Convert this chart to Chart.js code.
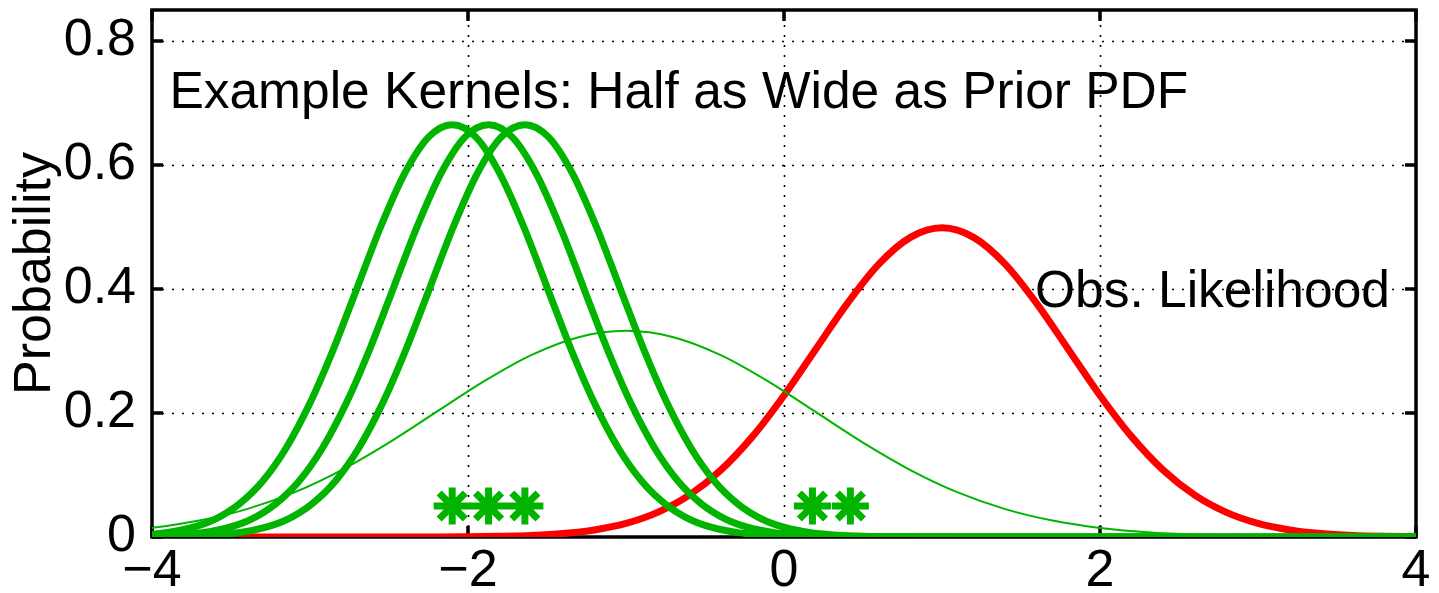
<!DOCTYPE html>
<html><head><meta charset="utf-8">
<script src="https://cdn.jsdelivr.net/npm/chart.js@4.4.1/dist/chart.umd.min.js"></script>
<style>html,body{margin:0;padding:0;background:#fff;overflow:hidden}canvas{display:block}</style>
</head><body>
<canvas id="c" width="1439" height="593"></canvas>
<script>
const xTickValues=[-4,-2,0,2,4];
const xTickLabels=['\u22124','\u22122','0','2','4'];
const yTickValues=[0,0.2,0.4,0.6,0.8];
const yTickLabels=['0','0.2','0.4','0.6','0.8'];

const kernel1X=[-4,-3.9,-3.75,-3.6,-3.45,-3.3,-3.15,-3.0,-2.85,-2.7,-2.55,-2.4,-2.25,-2.1,-1.95,-1.8,-1.65,-1.5,-1.35,-1.2,-1.05,-0.9,-0.75,-0.6,-0.45,-0.3,-0.15,0,0.15,4];
const kernel1Y=[0.0045,0.0074,0.015,0.029,0.053,0.090,0.144,0.216,0.304,0.403,0.502,0.587,0.645,0.665,0.645,0.587,0.502,0.403,0.304,0.216,0.144,0.090,0.053,0.029,0.015,0.0074,0.0034,0.0015,0.0006,0];
const kernel2X=[-4,-3.67,-3.52,-3.37,-3.22,-3.07,-2.92,-2.77,-2.62,-2.47,-2.32,-2.17,-2.02,-1.87,-1.72,-1.57,-1.42,-1.27,-1.12,-0.97,-0.82,-0.67,-0.52,-0.37,-0.22,-0.07,0.08,0.23,0.38,4];
const kernel2Y=[0.0012,0.0074,0.015,0.029,0.053,0.090,0.144,0.216,0.304,0.403,0.502,0.587,0.645,0.665,0.645,0.587,0.502,0.403,0.304,0.216,0.144,0.090,0.053,0.029,0.015,0.0074,0.0034,0.0015,0.0006,0];
const kernel3X=[-4,-3.44,-3.29,-3.14,-2.99,-2.84,-2.69,-2.54,-2.39,-2.24,-2.09,-1.94,-1.79,-1.64,-1.49,-1.34,-1.19,-1.04,-0.89,-0.74,-0.59,-0.44,-0.29,-0.14,0.01,0.16,0.31,0.46,0.61,4];
const kernel3Y=[0.0003,0.0074,0.015,0.029,0.053,0.090,0.144,0.216,0.304,0.403,0.502,0.587,0.645,0.665,0.645,0.587,0.502,0.403,0.304,0.216,0.144,0.090,0.053,0.029,0.015,0.0074,0.0034,0.0015,0.0006,0];
const priorX=[-4,-3.7,-3.4,-3.1,-2.8,-2.5,-2.2,-1.9,-1.6,-1.3,-1.0,-0.7,-0.4,-0.1,0.2,0.5,0.8,1.1,1.4,1.7,2.0,2.3,2.6,2.9,3.2,3.5,3.8,4.0];
const priorY=[0.0146,0.0265,0.0450,0.0719,0.1080,0.1522,0.2017,0.2510,0.2934,0.3223,0.3325,0.3223,0.2934,0.2510,0.2017,0.1522,0.1080,0.0719,0.0450,0.0265,0.0146,0.0076,0.0037,0.0017,0.0007,0.0003,0.0001,0.00006];
const likeX=[-4,-2.2,-2.0,-1.8,-1.6,-1.4,-1.2,-1.0,-0.8,-0.6,-0.4,-0.2,0.0,0.2,0.4,0.6,0.8,1.0,1.2,1.4,1.6,1.8,2.0,2.2,2.4,2.6,2.8,3.0,3.2,3.4,3.6,3.8,4.0];
const likeY=[0,0.0002,0.0004,0.0011,0.0025,0.0055,0.0114,0.0219,0.0397,0.0675,0.1079,0.1619,0.2283,0.3025,0.3764,0.4401,0.4833,0.4987,0.4833,0.4401,0.3764,0.3025,0.2283,0.1619,0.1079,0.0675,0.0397,0.0219,0.0114,0.0055,0.0025,0.0011,0.0004];
const sampleX=[-2.1,-1.87,-1.64,0.18,0.42];
const sampleY=[0.05,0.05,0.05,0.05,0.05];

const titleText='Example Kernels: Half as Wide as Prior PDF';
const titlePos=[-3.89,0.692];
const obsText='Obs. Likelihood';
const obsPos=[3.835,0.371];

const GREEN='rgb(0,180,0)';
const FONT='"Liberation Sans", Arial, Helvetica, sans-serif';
const pts=(xs,ys)=>xs.map((v,i)=>({x:v,y:ys[i]}));

const framePlugin={
  id:'frame',
  beforeDatasetsDraw(chart){
    const {ctx,chartArea:a,scales:{x,y}}=chart;
    ctx.save();
    ctx.strokeStyle='#000';ctx.lineWidth=1.6;ctx.setLineDash([2,8]);
    ctx.beginPath();
    xTickValues.slice(1,-1).forEach(v=>{const px=Math.round(x.getPixelForValue(v))+0.5;ctx.moveTo(px,a.bottom);ctx.lineTo(px,a.top);});
    yTickValues.slice(1).forEach(v=>{const py=Math.round(y.getPixelForValue(v))+0.5;ctx.moveTo(a.left,py);ctx.lineTo(a.right,py);});
    ctx.stroke();
    ctx.setLineDash([]);
    ctx.lineWidth=3.5;
    ctx.strokeRect(a.left,a.top,a.right-a.left,a.bottom-a.top);
    const L=11;
    ctx.beginPath();
    xTickValues.forEach(v=>{const px=x.getPixelForValue(v);ctx.moveTo(px,a.bottom);ctx.lineTo(px,a.bottom-L);ctx.moveTo(px,a.top);ctx.lineTo(px,a.top+L);});
    yTickValues.forEach(v=>{const py=y.getPixelForValue(v);ctx.moveTo(a.left,py);ctx.lineTo(a.left+L,py);ctx.moveTo(a.right,py);ctx.lineTo(a.right-L,py);});
    ctx.stroke();
    ctx.restore();
  },
  afterDatasetsDraw(chart){
    const {ctx,scales:{x,y}}=chart;
    ctx.save();
    ctx.fillStyle='#000';
    ctx.font='51.5px '+FONT;
    ctx.textBaseline='alphabetic';
    ctx.textAlign='left';
    ctx.fillText(titleText,x.getPixelForValue(titlePos[0]),y.getPixelForValue(titlePos[1]));
    ctx.textAlign='right';
    ctx.fillText(obsText,x.getPixelForValue(obsPos[0]),y.getPixelForValue(obsPos[1]));
    ctx.restore();
  }
};

new Chart(document.getElementById('c'),{
  type:'scatter',
  data:{datasets:[
    {data:pts(sampleX,sampleY),showLine:false,pointStyle:'star',pointRadius:18.5,pointBorderWidth:7,borderColor:GREEN,backgroundColor:GREEN,pointBorderColor:GREEN,order:0},
    {data:pts(kernel1X,kernel1Y),showLine:true,borderColor:GREEN,borderWidth:7,pointRadius:0,cubicInterpolationMode:'monotone',order:2},
    {data:pts(kernel2X,kernel2Y),showLine:true,borderColor:GREEN,borderWidth:7,pointRadius:0,cubicInterpolationMode:'monotone',order:2},
    {data:pts(kernel3X,kernel3Y),showLine:true,borderColor:GREEN,borderWidth:7,pointRadius:0,cubicInterpolationMode:'monotone',order:2},
    {data:pts(priorX,priorY),showLine:true,borderColor:GREEN,borderWidth:2,pointRadius:0,cubicInterpolationMode:'monotone',order:4},
    {data:pts(likeX,likeY),showLine:true,borderColor:'rgb(255,0,0)',borderWidth:7,pointRadius:0,cubicInterpolationMode:'monotone',order:5}
  ]},
  options:{
    responsive:false,animation:false,devicePixelRatio:1,
    layout:{autoPadding:false,padding:{top:10,right:23,left:0,bottom:0}},
    plugins:{legend:{display:false},tooltip:{enabled:false}},
    scales:{
      x:{type:'linear',min:-4,max:4,
        grid:{display:false},border:{display:false},
        afterBuildTicks:s=>{s.ticks=xTickValues.map(v=>({value:v}));},
        afterFit:s=>{s.height=56;s.paddingLeft=0;s.paddingRight=0;},
        ticks:{padding:-5,color:'#000',font:{family:FONT,size:52},maxRotation:0,autoSkip:false,
          callback:(v)=>{const i=xTickValues.indexOf(v);return i>=0?xTickLabels[i]:'';}}
      },
      y:{type:'linear',min:0,max:0.85,
        grid:{display:false},border:{display:false},
        afterBuildTicks:s=>{s.ticks=yTickValues.map(v=>({value:v}));},
        afterFit:s=>{s.width=152;s.paddingTop=0;s.paddingBottom=0;},
        title:{display:true,text:'Probability',color:'#000',font:{family:FONT,size:52},padding:{top:4,bottom:0}},
        ticks:{padding:8,color:'#000',font:{family:FONT,size:52},
          callback:(v)=>{const i=yTickValues.findIndex(t=>Math.abs(t-v)<1e-9);return i>=0?yTickLabels[i]:'';}}
      }
    }
  },
  plugins:[framePlugin]
});
</script>
</body></html>
